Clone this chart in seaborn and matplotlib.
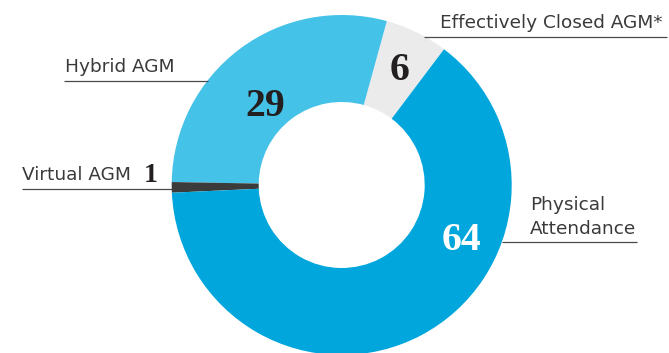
import matplotlib
matplotlib.use("Agg")
import matplotlib.pyplot as plt
import seaborn as sns

# AGM format shares (%)
categories = ["Effectively Closed AGM*", "Hybrid AGM", "Virtual AGM", "Physical Attendance"]
values = [6, 29, 1, 64]
label_lines = [["Effectively Closed AGM*"], ["Hybrid AGM"], ["Virtual AGM"], ["Physical", "Attendance"]]

sns.set_theme(style="white")
colors = sns.color_palette(["#ebebeb", "#44c2e8", "#3b3b3b", "#00a6dc"])

W, H = 669, 353
fig = plt.figure(figsize=(W / 100, H / 100), dpi=100)
ax = fig.add_axes([0, 0, 1, 1])

cx, cy_px, r_out, r_in = 341.7, 185, 170, 83
cy = H - cy_px

ax.pie(values, colors=colors, startangle=53, counterclock=True,
       center=(cx, cy), radius=r_out,
       wedgeprops=dict(width=r_out - r_in, linewidth=0))

ax.set_xlim(0, W)
ax.set_ylim(0, H)
ax.set_aspect("equal")
ax.axis("off")

def py(y):
    return H - y

sans = ["DejaVu Sans"]
txt_color = "#3a3a3a"
line_color = "#4a4a4a"
fs_label = 13.3

# category labels: (x, first baseline), leader line (x0, x1, y)
label_pos = {
    "Effectively Closed AGM*": (440, 28.5, (424, 667, 37)),
    "Hybrid AGM": (65, 72.5, (64, 208, 81)),
    "Virtual AGM": (22, 180.5, (22, 172, 188.5)),
    "Physical Attendance": (530, 210, (502, 637, 242)),
}
for cat, lines in zip(categories, label_lines):
    x, yb, (x0, x1, yl) = label_pos[cat]
    for i, ln in enumerate(lines):
        ax.text(x, py(yb + i * 24), ln, ha="left", va="baseline",
                fontsize=fs_label, color=txt_color, family=sans)
    ax.plot([x0, x1], [py(yl), py(yl)], color=line_color, lw=0.9,
            solid_capstyle="butt")

# value labels on the ring
val_pos = {
    "Effectively Closed AGM*": (399.5, 80.5, "#231f20"),
    "Hybrid AGM": (265, 115.5, "#231f20"),
    "Virtual AGM": (151, 181.5, "#231f20"),
    "Physical Attendance": (461, 250, "white"),
}
for cat, v in zip(categories, values):
    x, yb, c = val_pos[cat]
    fs = 20 if cat == "Virtual AGM" else 28.5
    ax.text(x, py(yb), f"{v}", ha="center", va="baseline", fontsize=fs,
            fontweight="bold", color=c, family=["Liberation Serif"])

fig.savefig("out.png", dpi=100)
